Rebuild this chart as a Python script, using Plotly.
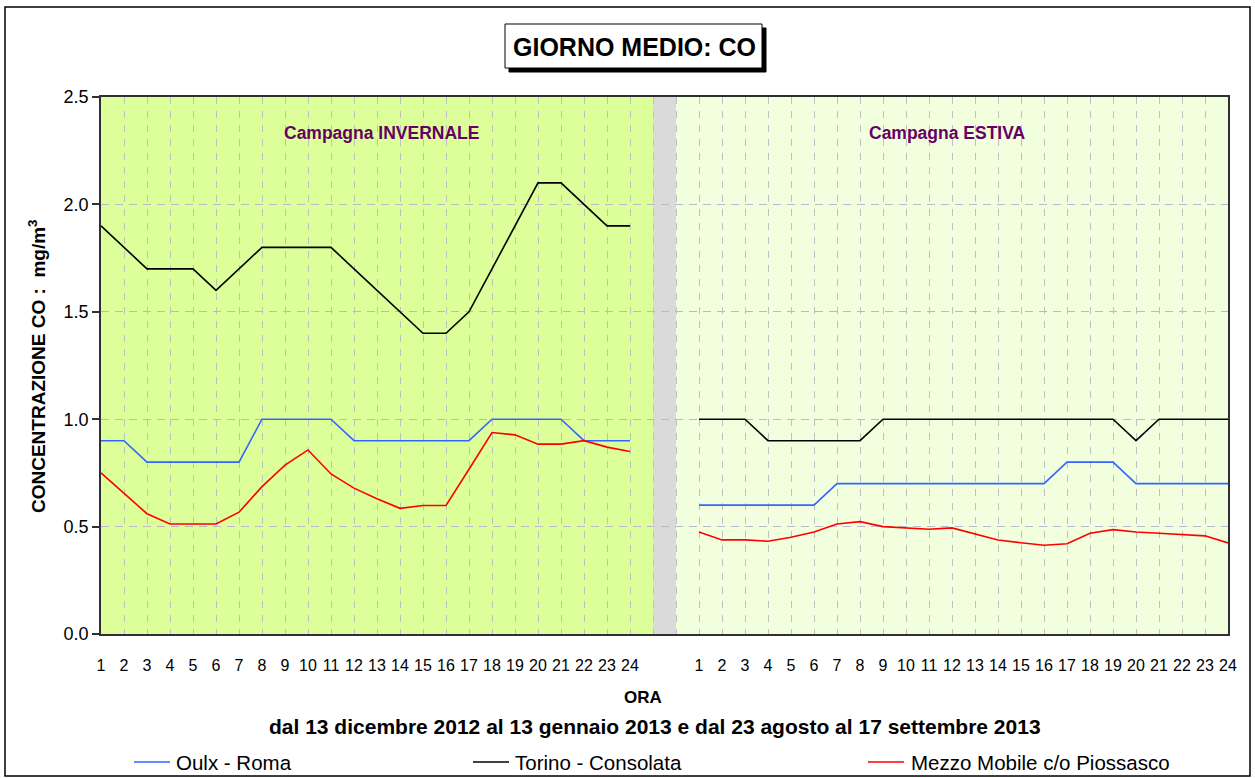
import plotly.graph_objects as go

# ---------------- data ----------------
HOURS = list(range(1, 25))

# Campagna invernale (13 dic 2012 - 13 gen 2013)
oulx_winter = [0.9, 0.9, 0.8, 0.8, 0.8, 0.8, 0.8, 1.0, 1.0, 1.0, 1.0, 0.9,
               0.9, 0.9, 0.9, 0.9, 0.9, 1.0, 1.0, 1.0, 1.0, 0.9, 0.9, 0.9]
torino_winter = [1.9, 1.8, 1.7, 1.7, 1.7, 1.6, 1.7, 1.8, 1.8, 1.8, 1.8, 1.7,
                 1.6, 1.5, 1.4, 1.4, 1.5, 1.7, 1.9, 2.1, 2.1, 2.0, 1.9, 1.9]
mezzo_winter = [0.75, 0.655, 0.56, 0.512, 0.512, 0.512, 0.567, 0.686, 0.786, 0.857, 0.745, 0.679,
                0.63, 0.585, 0.598, 0.598, 0.767, 0.938, 0.927, 0.884, 0.884, 0.90, 0.87, 0.85]

# Campagna estiva (23 ago - 17 set 2013)
oulx_summer = [0.6, 0.6, 0.6, 0.6, 0.6, 0.6, 0.7, 0.7, 0.7, 0.7, 0.7, 0.7,
               0.7, 0.7, 0.7, 0.7, 0.8, 0.8, 0.8, 0.7, 0.7, 0.7, 0.7, 0.7]
torino_summer = [1.0, 1.0, 1.0, 0.9, 0.9, 0.9, 0.9, 0.9, 1.0, 1.0, 1.0, 1.0,
                 1.0, 1.0, 1.0, 1.0, 1.0, 1.0, 1.0, 0.9, 1.0, 1.0, 1.0, 1.0]
mezzo_summer = [0.475, 0.438, 0.438, 0.432, 0.450, 0.475, 0.512, 0.523, 0.500, 0.494, 0.488, 0.494,
                0.466, 0.438, 0.425, 0.413, 0.420, 0.469, 0.486, 0.475, 0.469, 0.463, 0.457, 0.424]

SERIES = ["Oulx - Roma", "Torino - Consolata", "Mezzo Mobile c/o Piossasco"]
COLORS = ["#3366FF", "#000000", "#FF0000"]
Y_TICKS = [0.0, 0.5, 1.0, 1.5, 2.0, 2.5]

TITLE = "GIORNO MEDIO: CO"
SUBTITLE = "dal 13 dicembre 2012 al 13 gennaio 2013 e dal 23 agosto al 17 settembre 2013"

# ---------------- layout helpers ----------------
W, H = 1255, 778
L, R, T, B = 101, 1228, 97, 634
GAP = 2  # empty category slots between campaigns
SUMMER_OFFSET = len(HOURS) + GAP

x_winter = [h - 1 for h in HOURS]
x_summer = [h - 1 + SUMMER_OFFSET for h in HOURS]
x_max = x_summer[-1]


def px(xp):
    return (xp - L) / (R - L)


def py(yp):
    return (B - yp) / (B - T)


FONT = "Liberation Sans, Arial, sans-serif"

fig = go.Figure()

winter = [oulx_winter, torino_winter, mezzo_winter]
summer = [oulx_summer, torino_summer, mezzo_summer]
for name, col, wv, sv in zip(SERIES, COLORS, winter, summer):
    fig.add_trace(go.Scatter(x=x_winter, y=wv, mode="lines", name=name,
                             line=dict(color=col, width=1.6), showlegend=False))
    fig.add_trace(go.Scatter(x=x_summer, y=sv, mode="lines", name=name,
                             line=dict(color=col, width=1.6), showlegend=False))

shapes = []
# backgrounds
shapes.append(dict(type="rect", xref="x", yref="paper", x0=0, x1=len(HOURS), y0=0, y1=1,
                   fillcolor="#DDFF99", line_width=0, layer="below"))
shapes.append(dict(type="rect", xref="x", yref="paper", x0=len(HOURS), x1=len(HOURS) + 1, y0=0, y1=1,
                   fillcolor="#DADADA", line_width=0, layer="below"))
shapes.append(dict(type="rect", xref="x", yref="paper", x0=len(HOURS) + 1, x1=x_max, y0=0, y1=1,
                   fillcolor="#F2FFDE", line_width=0, layer="below"))
# outer border
shapes.append(dict(type="rect", xref="paper", yref="paper", x0=px(5), x1=px(1250), y0=py(776), y1=py(7),
                   line=dict(color="#000000", width=1.5), fillcolor="rgba(0,0,0,0)"))
# title box with shadow
shapes.append(dict(type="rect", xref="paper", yref="paper", x0=px(509), x1=px(766), y0=py(72), y1=py(28),
                   line=dict(color="#000000", width=1), fillcolor="#000000"))
shapes.append(dict(type="rect", xref="paper", yref="paper", x0=px(505), x1=px(762), y0=py(68), y1=py(24),
                   line=dict(color="#000000", width=1), fillcolor="#FFFFFF"))
# legend samples
legend_x = [(134, 170, 174), (473, 509, 513), (868, 904, 909)]
leg_y = 762
annotations = []
for (x0, x1, xt), name, col in zip(legend_x, SERIES, COLORS):
    shapes.append(dict(type="line", xref="paper", yref="paper", x0=px(x0), x1=px(x1),
                       y0=py(leg_y), y1=py(leg_y), line=dict(color=col, width=1.5)))
    annotations.append(dict(xref="paper", yref="paper", x=px(xt), y=py(leg_y), text=name,
                            showarrow=False, xanchor="left", yanchor="middle",
                            font=dict(family=FONT, size=20.5, color="#000000")))

annotations += [
    dict(xref="paper", yref="paper", x=px(634), y=py(47), text="<b>" + TITLE + "</b>",
         showarrow=False, xanchor="center", yanchor="middle",
         font=dict(family=FONT, size=25, color="#000000")),
    dict(xref="x", yref="paper", x=12.2, y=py(133), text="<b>Campagna INVERNALE</b>",
         showarrow=False, xanchor="center", yanchor="middle",
         font=dict(family=FONT, size=17.5, color="#660066")),
    dict(xref="x", yref="paper", x=36.8, y=py(133), text="<b>Campagna ESTIVA</b>",
         showarrow=False, xanchor="center", yanchor="middle",
         font=dict(family=FONT, size=17.5, color="#660066")),
    dict(xref="paper", yref="paper", x=px(643), y=py(697), text="<b>ORA</b>",
         showarrow=False, xanchor="center", yanchor="middle",
         font=dict(family=FONT, size=17, color="#000000")),
    dict(xref="paper", yref="paper", x=px(655), y=py(726), text="<b>" + SUBTITLE + "</b>",
         showarrow=False, xanchor="center", yanchor="middle",
         font=dict(family=FONT, size=21, color="#000000")),
    dict(xref="paper", yref="paper", x=px(37), y=py(367),
         text="<b>CONCENTRAZIONE CO :  mg/m<sup>3</sup></b>", textangle=-90,
         showarrow=False, xanchor="center", yanchor="middle",
         font=dict(family=FONT, size=19, color="#000000")),
]

fig.update_layout(
    width=W, height=H,
    margin=dict(l=L, r=W - R, t=T, b=H - B, pad=0),
    paper_bgcolor="#FFFFFF", plot_bgcolor="#FFFFFF",
    shapes=shapes, annotations=annotations, showlegend=False,
    font=dict(family=FONT, size=16, color="#000000"),
)

fig.update_xaxes(
    range=[0, x_max], tickmode="array",
    tickvals=x_winter + x_summer, ticktext=[str(h) for h in HOURS] * 2,
    showgrid=False, zeroline=False, ticks="", ticklabelstandoff=16,
    tickfont=dict(family=FONT, size=16, color="#000000"),
    showline=True, linecolor="#303030", linewidth=1.5, mirror=True,
    minor=dict(tickmode="linear", tick0=0, dtick=1, showgrid=True,
               gridcolor="#C0C0C4", griddash="7px,7px", gridwidth=1, ticks=""),
)
fig.update_yaxes(
    range=[0, 2.5], tickmode="array", tickvals=Y_TICKS,
    ticktext=["%.1f" % v for v in Y_TICKS],
    showgrid=True, gridcolor="#BDB6CC", griddash="8px,6px", gridwidth=1,
    zeroline=False, ticks="outside", ticklen=7, tickcolor="#303030", tickwidth=1.5,
    tickfont=dict(family=FONT, size=18, color="#000000"),
    showline=True, linecolor="#303030", linewidth=1.5, mirror=True,
)

fig.write_html("out.html", config={"displayModeBar": False},
               post_script="document.body.style.margin='0';")
